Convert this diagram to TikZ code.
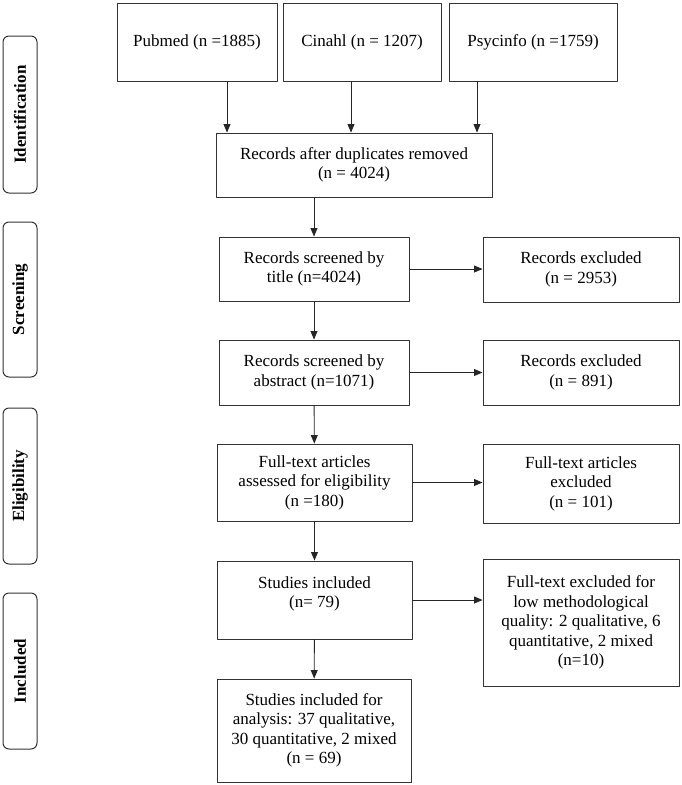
\documentclass[tikz,border=0pt]{standalone}
\usepackage{fontspec}
\setmainfont{Liberation Serif}
\usetikzlibrary{arrows}

\begin{document}
\begin{tikzpicture}[line cap=round,line join=round,>=triangle 45,x=1pt,y=-1pt,
    box/.style={draw=black!80,line width=1pt,align=center,inner sep=2pt,
        font=\fontsize{17}{19.5}\selectfont},
    phase/.style={draw=black!80,line width=1pt,rounded corners=6pt,rotate=90,
        minimum height=34pt,inner sep=0pt,font=\fontsize{17}{19.5}\selectfont\bfseries},
    link/.style={->,draw=black!85,line width=0.9pt}]
        \useasboundingbox (0,0) rectangle (681,785);
        % phases
        \node [phase,minimum width=157pt] (ident) at (20,114.5) {Identification};
        \node [phase,minimum width=155pt] (screen) at (20,299.5) {Screening};
        \node [phase,minimum width=156pt] (elig) at (20,486) {Eligibility};
        \node [phase,minimum width=156pt] (incl) at (20,671) {Included};
        % databases
        \node [box,minimum width=160pt,minimum height=78pt] (pubmed) at (197,42) {Pubmed (n =1885)};
        \node [box,minimum width=158pt,minimum height=78pt] (cinahl) at (362,42) {Cinahl (n = 1207)};
        \node [box,minimum width=168pt,minimum height=78pt] (psycinfo) at (533,42) {Psycinfo (n =1759)};
        % main column
        \node [box,minimum width=276pt,minimum height=64pt] (dupl) at (354,165) {Records after duplicates removed\\(n = 4024)};
        \node [box,minimum width=190pt,minimum height=64pt] (bytitle) at (314,269) {Records screened by\\title (n=4024)};
        \node [box,minimum width=190pt,minimum height=65pt] (byabstract) at (314,372.5) {Records screened by\\abstract (n=1071)};
        \node [box,minimum width=195pt,minimum height=77pt] (fulltext) at (314.5,482.5) {Full-text articles\\assessed for eligibility\\(n =180)};
        \node [box,minimum width=195pt,minimum height=78pt] (included) at (314.5,600) {Studies included\\(n= 79)\\[-3.5pt]\mbox{}};
        \node [box,minimum width=194pt,minimum height=103pt] (analysis) at (314,730.5) {Studies included for\\analysis: 37 qualitative,\\30 quantitative, 2 mixed\\(n = 69)};
        % exclusions
        \node [box,minimum width=196pt,minimum height=65pt] (exclA) at (581,269.5) {Records excluded\\(n = 2953)};
        \node [box,minimum width=196pt,minimum height=65pt] (exclB) at (581,372.5) {Records excluded\\(n = 891)};
        \node [box,minimum width=196pt,minimum height=79pt] (exclC) at (581,483.5) {Full-text articles\\excluded\\(n = 101)};
        \node [box,minimum width=196pt,minimum height=127pt] (exclD) at (581,622.5) {Full-text excluded for\\low methodological\\quality: 2 qualitative, 6\\quantitative, 2 mixed\\(n=10)};
        % arrows
        \draw [link] ([xshift=30pt]pubmed.south) -- ([xshift=30pt]pubmed.south |- dupl.north);
        \draw [link] ([xshift=-11pt]cinahl.south) -- ([xshift=-11pt]cinahl.south |- dupl.north);
        \draw [link] ([xshift=-56pt]psycinfo.south) -- ([xshift=-56pt]psycinfo.south |- dupl.north);
        \draw [link] (bytitle.north |- dupl.south) -- (bytitle.north);
        \draw [link] (bytitle) -- (byabstract);
        \draw [link] (byabstract) -- (fulltext);
        \draw [link] (fulltext) -- (included);
        \draw [link] (included) -- (analysis);
        \draw [link] (bytitle.east) -- (bytitle.east -| exclA.west);
        \draw [link] (byabstract.east) -- (byabstract.east -| exclB.west);
        \draw [link] (fulltext.east) -- (fulltext.east -| exclC.west);
        \draw [link] (included.east) -- (included.east -| exclD.west);
\end{tikzpicture}
\end{document}
